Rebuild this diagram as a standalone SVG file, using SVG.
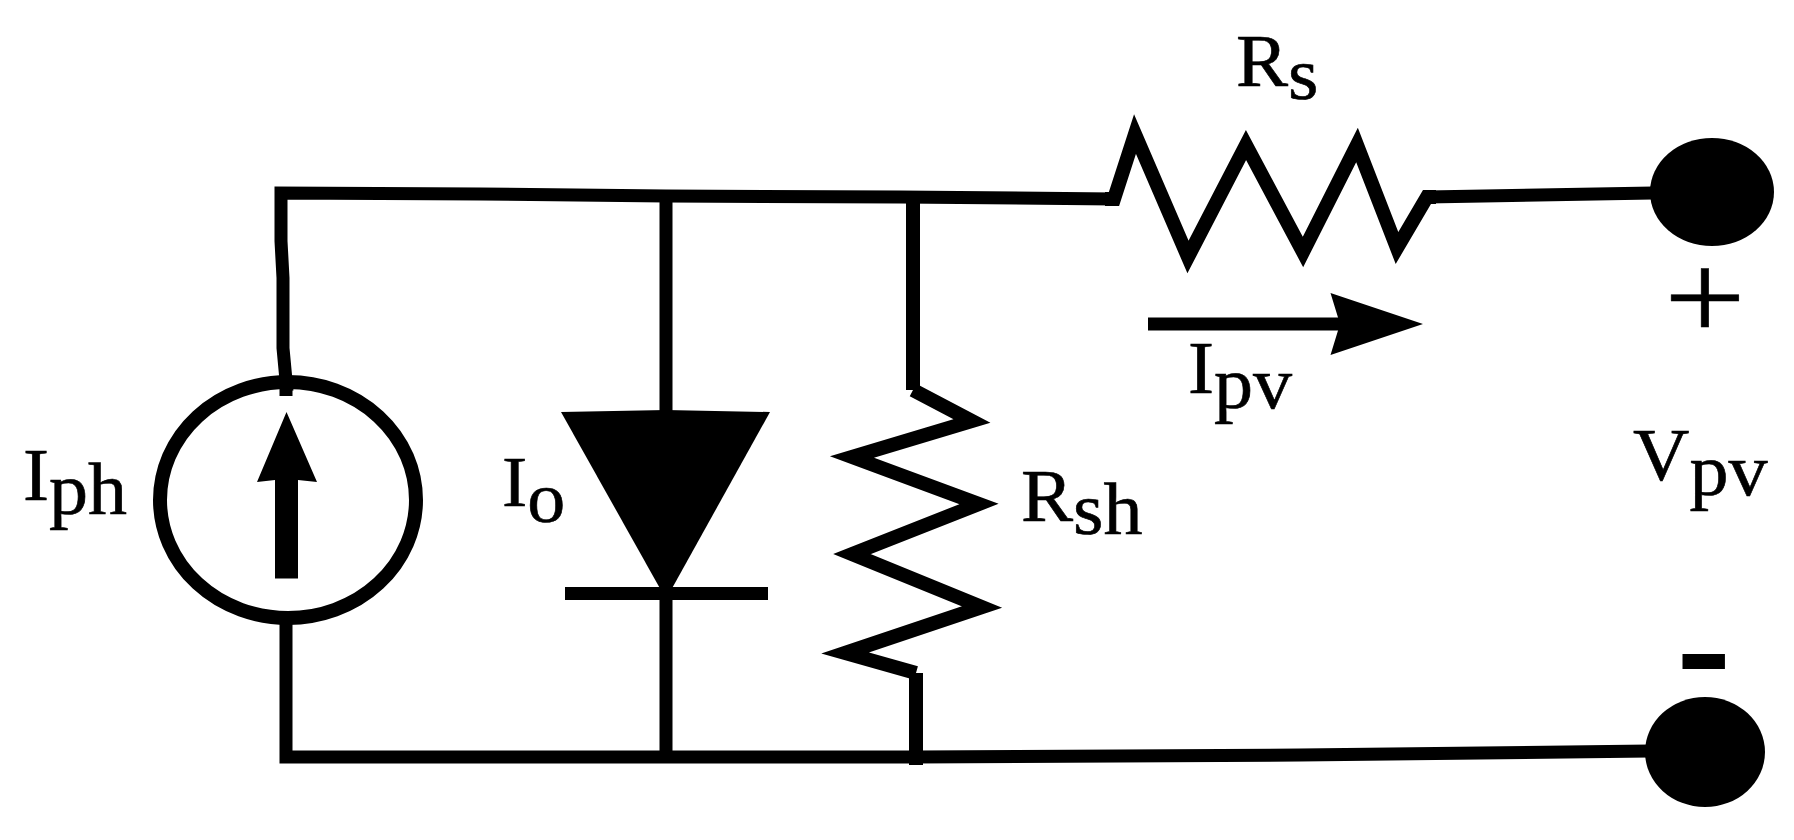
<svg xmlns="http://www.w3.org/2000/svg" width="1794" height="840" viewBox="0 0 1794 840">
<style>
.w{fill:none;stroke:#000;stroke-width:13;stroke-linejoin:miter;stroke-miterlimit:10}
.z{fill:none;stroke:#000;stroke-width:14;stroke-linejoin:miter;stroke-miterlimit:10}
.f{fill:#000;stroke:none}
text{font-family:"Liberation Serif","Times New Roman",serif;font-size:73px;fill:#000;stroke:#000;stroke-width:.6}
</style>
<rect width="1794" height="840" fill="#fff"/>
<g id="connectors">
<path class="w" d="M287 391L283 348V278L281 241V193L480 194L666 196L900 197L1114 199"/>
<path class="w" d="M666 196V415"/>
<path class="w" d="M666 594V757"/>
<path class="w" d="M286 624V757H916L1300 755L1650 751"/>
<path class="z" d="M913 197V390"/>
<path class="z" d="M916 673V765"/>
<path class="w" d="M1427 197L1653 193"/>
</g>
<g id="source-iph">
<ellipse cx="288" cy="500" rx="128" ry="118" fill="none" stroke="#000" stroke-width="14"/>
<path class="w" d="M286 380V396"/>
<path class="f" d="M286.500 412L317 482L298 480V578.500H275V480L257 482Z"/>
<text transform="translate(23,500) scale(1.07,1)">I<tspan dy="13.500">ph</tspan></text>
</g>
<g id="diode-io">
<path class="f" d="M561 412L666 410L770 412L670 592H662Z"/>
<rect class="f" x="565" y="587" width="203" height="13"/>
<text transform="translate(502,506) scale(1.07,1)" style="font-size:71px">I<tspan dy="16">o</tspan></text>
</g>
<g id="resistor-rsh">
<path class="z" d="M913 390L972 421L852 457L979 504L852 554L982 607L845 653L916 673"/>
<text transform="translate(1021,520.500) scale(1.07,1)">R<tspan dy="13.500">sh</tspan></text>
</g>
<g id="resistor-rs">
<path class="z" d="M1105 199H1114L1135 134L1188 257L1246 145L1303 252L1357 145L1397 248L1427 197H1436"/>
<text transform="translate(1236,85.500) scale(1.07,1)">R<tspan dy="13.500">s</tspan></text>
</g>
<g id="current-ipv">
<path class="w" d="M1148 324H1350"/>
<path class="f" d="M1423 324L1330.500 293L1340 324L1330.500 355Z"/>
<text transform="translate(1188,392.500) scale(1.07,1)">I<tspan dy="15">pv</tspan></text>
</g>
<g id="terminal-plus">
<ellipse class="f" cx="1712" cy="192" rx="62" ry="54"/>
<text transform="translate(1664,339) scale(1.160,1)" style="font-size:125px">+</text>
</g>
<g id="voltage-vpv">
<text transform="translate(1633,480) scale(1.07,1)">V<tspan dy="15">pv</tspan></text>
</g>
<g id="terminal-minus">
<ellipse class="f" cx="1705" cy="752" rx="60" ry="55"/>
<text x="1679" y="696" style="font-size:148px;stroke-width:4">-</text>
</g>
</svg>
